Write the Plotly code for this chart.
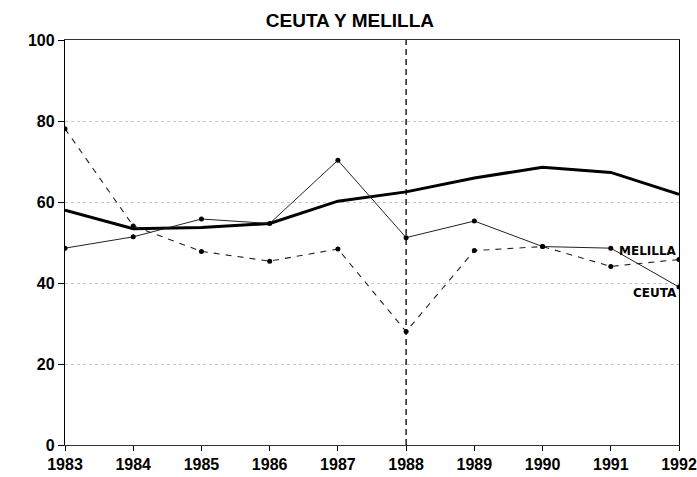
import plotly.graph_objects as go

# Years on the horizontal axis
years = [1983, 1984, 1985, 1986, 1987, 1988, 1989, 1990, 1991, 1992]

# Reference series (heavy line, no markers)
reference = [58.0, 53.4, 53.7, 54.7, 60.2, 62.5, 65.9, 68.6, 67.3, 61.9]

# Thin solid series with markers
solid_series = [48.6, 51.4, 55.8, 54.7, 70.3, 51.2, 55.3, 49.0, 48.6, 39.0]

# Dashed series with markers
dashed_series = [78.1, 54.1, 47.8, 45.4, 48.4, 28.0, 48.0, 49.0, 44.1, 45.8]

# Year marked with a vertical dashed line
marked_year = 1988

y_ticks = [0, 20, 40, 60, 80, 100]
x_ticks = years

# Label text for the end-of-line annotations and their values
end_labels = ["MELILLA", "CEUTA"]
end_label_values = [47.9, 37.5]

tick_font = dict(family="Liberation Sans, Arial, sans-serif", size=16,
                 color="black", weight="bold")

fig = go.Figure()

fig.add_trace(go.Scatter(
    x=[marked_year, marked_year], y=[y_ticks[0], y_ticks[-1]],
    mode="lines", line=dict(color="black", width=1.3, dash="6px,4px"),
    hoverinfo="skip", showlegend=False,
))

fig.add_trace(go.Scatter(
    x=years, y=reference, mode="lines",
    line=dict(color="black", width=3), showlegend=False,
))

fig.add_trace(go.Scatter(
    x=years, y=solid_series, mode="lines+markers",
    line=dict(color="#222222", width=1),
    marker=dict(color="black", size=5), showlegend=False,
))

fig.add_trace(go.Scatter(
    x=years, y=dashed_series, mode="lines+markers",
    line=dict(color="#222222", width=1.1, dash="6px,6px"),
    marker=dict(color="black", size=5), showlegend=False,
))

for text, val in zip(end_labels, end_label_values):
    fig.add_annotation(
        x=years[-1], y=val, xref="x", yref="y", text=text,
        showarrow=False, xanchor="right", yanchor="middle",
        font=dict(family="DejaVu Sans, sans-serif", size=12,
                  color="black", weight="bold"),
    )

fig.update_layout(
    width=697, height=477,
    margin=dict(l=65, r=18, t=40, b=32),
    paper_bgcolor="white", plot_bgcolor="white",
    title=dict(
        text="CEUTA Y MELILLA", x=0.464, xref="paper", xanchor="center",
        y=1, yref="container", yanchor="top", pad=dict(t=14),
        font=dict(family="Liberation Sans, Arial, sans-serif", size=19,
                  color="black", weight="bold"),
    ),
)

fig.update_xaxes(
    range=[years[0], years[-1]], tickvals=x_ticks, automargin=False,
    tickfont=tick_font, ticks="outside", ticklen=5, tickcolor="black",
    showline=True, linecolor="#333333", linewidth=1, mirror=True,
    showgrid=False, zeroline=False,
)

fig.update_yaxes(
    range=[y_ticks[0], y_ticks[-1]], tickvals=y_ticks, automargin=False,
    tickfont=tick_font, ticks="outside", ticklen=6, tickcolor="black",
    showline=True, linecolor="black", linewidth=1.3, mirror=True,
    showgrid=True, gridcolor="#c8c8c8", griddash="dot", gridwidth=1,
    zeroline=False,
)

fig.write_html("out.html")
